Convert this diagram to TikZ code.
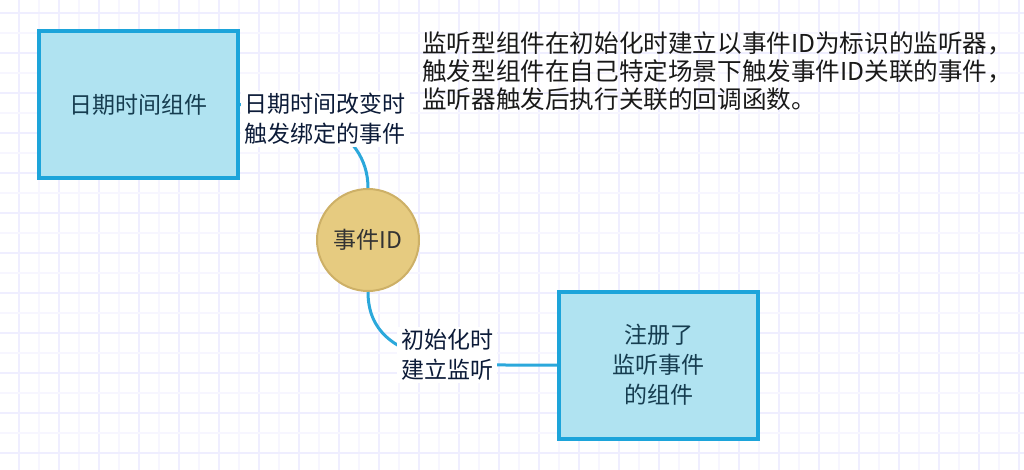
\documentclass[tikz,border=0pt]{standalone}
\usepackage{fontspec}
\setmainfont{Noto Sans CJK SC}
\usetikzlibrary{positioning}
\definecolor{cfill}{HTML}{B0E3F1}
\definecolor{cborder}{HTML}{1CA4DA}
\definecolor{cline}{HTML}{2BA8DB}
\definecolor{cgold}{HTML}{E6CB80}
\definecolor{cgoldline}{HTML}{CDB067}
\definecolor{cgridmaj}{HTML}{EFEEFF}
\definecolor{cgridmin}{HTML}{F7F6FF}
\definecolor{cboxtext}{HTML}{163D50}
\definecolor{clabel}{HTML}{0C1B38}
\tikzset{
  every picture/.style={font=\fontsize{23}{30}\selectfont},
  comp/.style={draw=cborder, fill=cfill, line width=4pt, minimum width=199pt, minimum height=147pt, align=center, text=cboxtext},
  event/.style={circle, draw=cgoldline, fill=cgold, line width=2pt, minimum size=102pt, inner sep=0pt, text=black!80},
  link/.style={draw=cline, line width=3pt},
  lab/.style={fill=white, align=center, text=clabel, inner xsep=4pt, inner ysep=2pt},
  note/.style={align=left, text=black!90, font=\fontsize{24.6}{28}\selectfont, inner sep=0pt},
}

\begin{document}
\begin{tikzpicture}[x=1pt, y=-1pt]
  \useasboundingbox (0,0) rectangle (1024,470);
  % grid
  \foreach \gx in {-1,19,...,1039} {
    \pgfmathtruncatemacro\maj{mod(\gx+1,40)==0 ? 0 : 1}
    \ifnum\maj=1 \def\c{cgridmaj}\else \def\c{cgridmin}\fi
    \draw[\c, line width=1.5pt] (\gx,0) -- (\gx,470);
  }
  \foreach \gy in {13,33,...,473} {
    \pgfmathtruncatemacro\maj{mod(\gy-13,40)==0 ? 1 : 0}
    \ifnum\maj=1 \def\c{cgridmaj}\else \def\c{cgridmin}\fi
    \draw[\c, line width=1.5pt] (0,\gy) -- (1024,\gy);
  }
  % nodes
  \node[comp] (dt) at (138.5,104.5) {日期时间组件};
  \node[event] (ev) at (368,240) {事件ID};
  \node[comp] (reg) at (658.5,365) {注册了\\监听事件\\的组件};
  % links
  \draw[link] (dt.east) to[out=0, in=90] (ev.north);
  \draw[link] (ev.south) to[out=-90, in=180] (reg.west);
  \node[lab] (fire) at (325,119) {日期时间改变时\\触发绑定的事件};
  \node[lab] (listen) at (447,355) {初始化时\\建立监听};
  \node[note, anchor=north west] (desc) at (422,31) {监听型组件在初始化时建立以事件ID为标识的监听器，\\触发型组件在自己特定场景下触发事件ID关联的事件，\\监听器触发后执行关联的回调函数。};
\end{tikzpicture}
\end{document}
